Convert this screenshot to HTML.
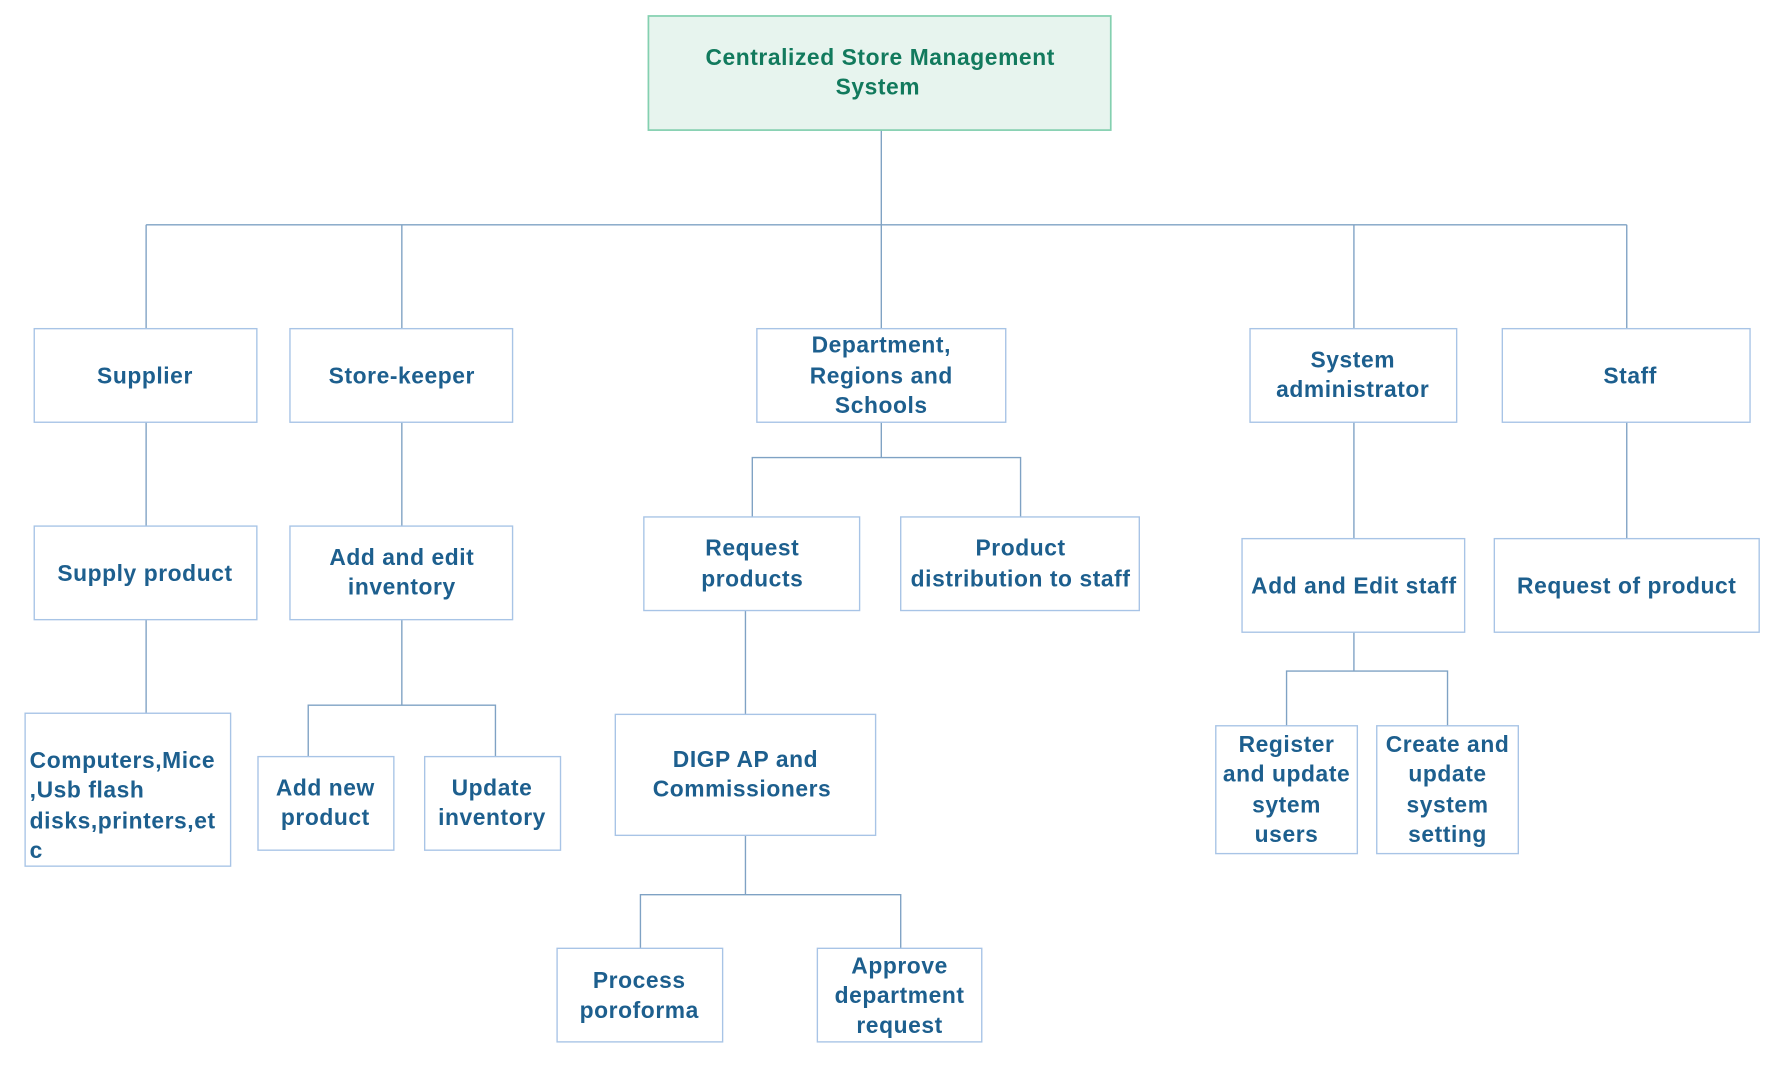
<!DOCTYPE html>
<html><head><meta charset="utf-8"><style>
html,body{margin:0;padding:0;background:#fff;}
svg{display:block;}
text{font-family:"Liberation Sans",Arial,sans-serif;font-weight:bold;font-size:20px;letter-spacing:0.5px;fill:#1d5f8e;}
.b{fill:#fff;stroke:#a8c4e6;stroke-width:1.2;}
.l{stroke:#7fa2c4;stroke-width:1.2;fill:none;}
</style></head><body>
<svg width="1790" height="1067" viewBox="0 0 1568 935" preserveAspectRatio="none" xmlns="http://www.w3.org/2000/svg">
<path class="l" d="M772 114V197M128 197H1425M128 197V288M352 197V288M772 197V288M1186 197V288M1425 197V288"/>
<path class="l" d="M128 370V461M128 543V625"/>
<path class="l" d="M352 370V461M352 543V618M270 663V618H434V663"/>
<path class="l" d="M772 370V401M659 453V401H894V453M653 535V626M653 732V784M561 831V784H789V831"/>
<path class="l" d="M1186 370V472M1186 554V588M1127 636V588H1268V636"/>
<path class="l" d="M1425 370V472"/>
<rect x="568" y="14" width="405" height="100" fill="#e7f4ee" stroke="#84d0b0" stroke-width="1.5"/>
<text x="771" y="57" text-anchor="middle" style="fill:#127a5d">Centralized Store Management</text>
<text x="769" y="83" text-anchor="middle" style="fill:#127a5d">System</text>
<rect class="b" x="30" y="288" width="195" height="82"/>
<text x="127" y="336" text-anchor="middle">Supplier</text>
<rect class="b" x="254" y="288" width="195" height="82"/>
<text x="352" y="336" text-anchor="middle">Store-keeper</text>
<rect class="b" x="663" y="288" width="218" height="82"/>
<text x="772" y="309" text-anchor="middle">Department,</text>
<text x="772" y="336" text-anchor="middle">Regions and</text>
<text x="772" y="362" text-anchor="middle">Schools</text>
<rect class="b" x="1095" y="288" width="181" height="82"/>
<text x="1185" y="322" text-anchor="middle">System</text>
<text x="1185" y="348" text-anchor="middle">administrator</text>
<rect class="b" x="1316" y="288" width="217" height="82"/>
<text x="1428" y="336" text-anchor="middle">Staff</text>
<rect class="b" x="30" y="461" width="195" height="82"/>
<text x="127" y="509" text-anchor="middle">Supply product</text>
<rect class="b" x="254" y="461" width="195" height="82"/>
<text x="352" y="495" text-anchor="middle">Add and edit</text>
<text x="352" y="521" text-anchor="middle">inventory</text>
<rect class="b" x="564" y="453" width="189" height="82"/>
<text x="659" y="487" text-anchor="middle">Request</text>
<text x="659" y="514" text-anchor="middle">products</text>
<rect class="b" x="789" y="453" width="209" height="82"/>
<text x="894" y="487" text-anchor="middle">Product</text>
<text x="894" y="514" text-anchor="middle">distribution to staff</text>
<rect class="b" x="1088" y="472" width="195" height="82"/>
<text x="1186" y="520" text-anchor="middle">Add and Edit staff</text>
<rect class="b" x="1309" y="472" width="232" height="82"/>
<text x="1425" y="520" text-anchor="middle">Request of product</text>
<rect class="b" x="22" y="625" width="180" height="134"/>
<text x="26" y="673">Computers,Mice</text>
<text x="26" y="699">,Usb flash</text>
<text x="26" y="726">disks,printers,et</text>
<text x="26" y="752">c</text>
<rect class="b" x="226" y="663" width="119" height="82"/>
<text x="285" y="697" text-anchor="middle">Add new</text>
<text x="285" y="723" text-anchor="middle">product</text>
<rect class="b" x="372" y="663" width="119" height="82"/>
<text x="431" y="697" text-anchor="middle">Update</text>
<text x="431" y="723" text-anchor="middle">inventory</text>
<rect class="b" x="539" y="626" width="228" height="106"/>
<text x="653" y="672" text-anchor="middle">DIGP AP and</text>
<text x="650" y="698" text-anchor="middle">Commissioners</text>
<rect class="b" x="1065" y="636" width="124" height="112"/>
<text x="1127" y="659" text-anchor="middle">Register</text>
<text x="1127" y="685" text-anchor="middle">and update</text>
<text x="1127" y="712" text-anchor="middle">sytem</text>
<text x="1127" y="738" text-anchor="middle">users</text>
<rect class="b" x="1206" y="636" width="124" height="112"/>
<text x="1268" y="659" text-anchor="middle">Create and</text>
<text x="1268" y="685" text-anchor="middle">update</text>
<text x="1268" y="712" text-anchor="middle">system</text>
<text x="1268" y="738" text-anchor="middle">setting</text>
<rect class="b" x="488" y="831" width="145" height="82"/>
<text x="560" y="866" text-anchor="middle">Process</text>
<text x="560" y="892" text-anchor="middle">poroforma</text>
<rect class="b" x="716" y="831" width="144" height="82"/>
<text x="788" y="853" text-anchor="middle">Approve</text>
<text x="788" y="879" text-anchor="middle">department</text>
<text x="788" y="905" text-anchor="middle">request</text>
</svg>
</body></html>
